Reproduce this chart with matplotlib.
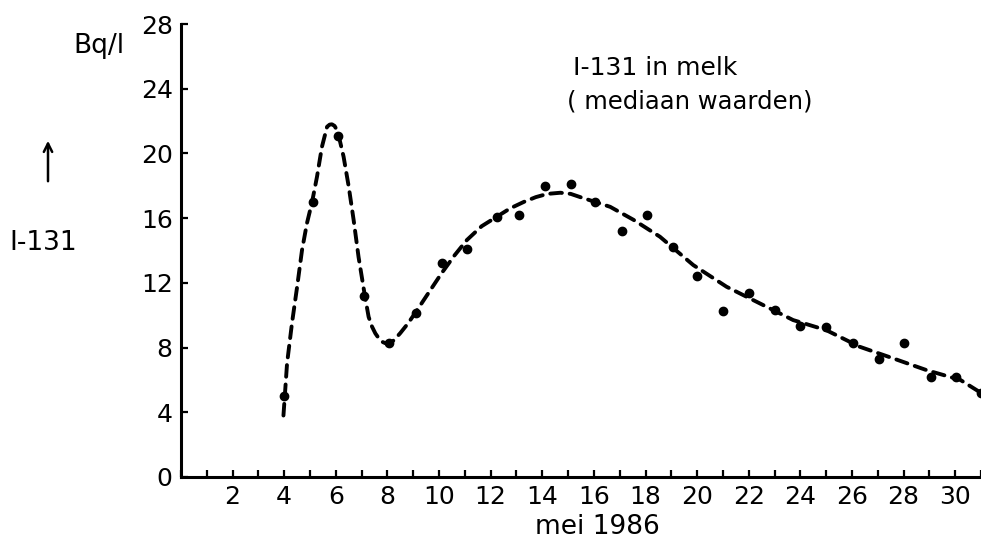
import matplotlib
matplotlib.use("Agg")
import matplotlib.pyplot as plt
from matplotlib.ticker import MultipleLocator

# measured points (day of May 1986, Bq/l)
days = [4.0, 5.1, 6.1, 7.1, 8.05, 9.1, 10.1, 11.08, 12.25, 13.1, 14.1, 15.1,
        16.05, 17.1, 18.07, 19.05, 20.0, 21.0, 22.0, 23.0, 24.0, 25.0, 26.05,
        27.05, 28.0, 29.05, 30.05, 31.0]
values = [5.0, 17.0, 21.1, 11.2, 8.26, 10.15, 13.2, 14.1, 16.1, 16.2, 18.0, 18.1,
          17.0, 15.2, 16.2, 14.2, 12.4, 10.26, 11.35, 10.3, 9.35, 9.25, 8.3,
          7.27, 8.3, 6.2, 6.2, 5.2]

# hand-drawn trend curve
curve_days = [3.97, 4.11, 4.30, 4.50, 4.69, 4.88, 5.08, 5.27, 5.46, 5.66, 5.76,
              5.85, 5.95, 6.04, 6.11, 6.30, 6.50, 6.69, 6.88, 7.12, 7.27, 7.40,
              7.53, 7.66, 7.79, 7.92, 8.05, 8.25, 8.5, 8.8, 9.08, 9.6, 10.1,
              10.6, 11.08, 11.65, 12.25, 12.75, 13.28, 13.75, 14.2, 14.7, 15.1,
              15.47, 16.05, 16.63, 17.53, 18.56, 19.85, 21.14, 22.43, 23.72,
              25.0, 26.3, 27.6, 28.9, 30.2, 31.0]
curve_values = [3.8, 7.03, 9.5, 11.76, 14.03, 15.68, 17.0, 18.56, 20.4, 21.65, 21.78,
                21.8, 21.7, 21.45, 21.1, 19.8, 17.94, 15.88, 13.6, 11.25, 9.9, 9.3,
                8.88, 8.58, 8.36, 8.27, 8.24, 8.45, 8.9, 9.5, 10.15, 11.4, 12.6,
                13.7, 14.65, 15.5, 16.1, 16.6, 17.0, 17.3, 17.5, 17.57, 17.5,
                17.3, 17.0, 16.7, 15.9, 14.85, 13.1, 11.76, 10.73, 9.7, 9.08,
                8.05, 7.33, 6.6, 6.0, 5.2]

x_major = list(range(2, 31, 2))
y_major = list(range(0, 29, 4))

FONT = "DejaVu Sans"
plt.rcParams['font.family'] = [FONT]

fig = plt.figure(figsize=(9.81, 5.49), dpi=100)
ax = fig.add_axes([181/981, 72/549, 800/981, 453/549])
ax.set_xlim(0, 31)
ax.set_ylim(0, 28)

ax.plot(curve_days, curve_values, color="black", lw=2.8, ls=(0, (3.0, 2.0)),
        dash_capstyle="round", clip_on=False)
ax.plot(days, values, "o", color="black", ms=6, clip_on=False)

for s in ["top", "right"]:
    ax.spines[s].set_visible(False)
for s in ["left", "bottom"]:
    ax.spines[s].set_linewidth(2.2)

ax.set_xticks(x_major)
ax.set_xticklabels([str(v) for v in x_major])
ax.xaxis.set_minor_locator(MultipleLocator(1))
ax.set_yticks(y_major)
ax.set_yticklabels([str(v) for v in y_major])
ax.tick_params(axis="both", which="both", direction="in", length=5, width=1.6,
               labelsize=18, colors="black")
ax.tick_params(axis="x", pad=6)
ax.tick_params(axis="y", pad=6)

fig.text(573/981, 1 - 68/549, "I-131 in melk", fontsize=18, va="center", ha="left")
fig.text(567/981, 1 - 101/549, "( mediaan waarden)", fontsize=17.5, va="center", ha="left")
fig.text(99/981, 1 - 46/549, "Bq/l", fontsize=19, va="center", ha="center")
fig.text(43/981, 1 - 243/549, "I-131", fontsize=19, va="center", ha="center")
fig.text(597/981, 1 - 527/549, "mei 1986", fontsize=19, va="center", ha="center")
fig.patches.append(matplotlib.patches.FancyArrowPatch(
    (48/981, 1 - 184/549), (48/981, 1 - 138/549), transform=fig.transFigure,
    arrowstyle="->,head_length=6,head_width=3", lw=1.8, color="black"))

fig.savefig("out.png", dpi=100)
